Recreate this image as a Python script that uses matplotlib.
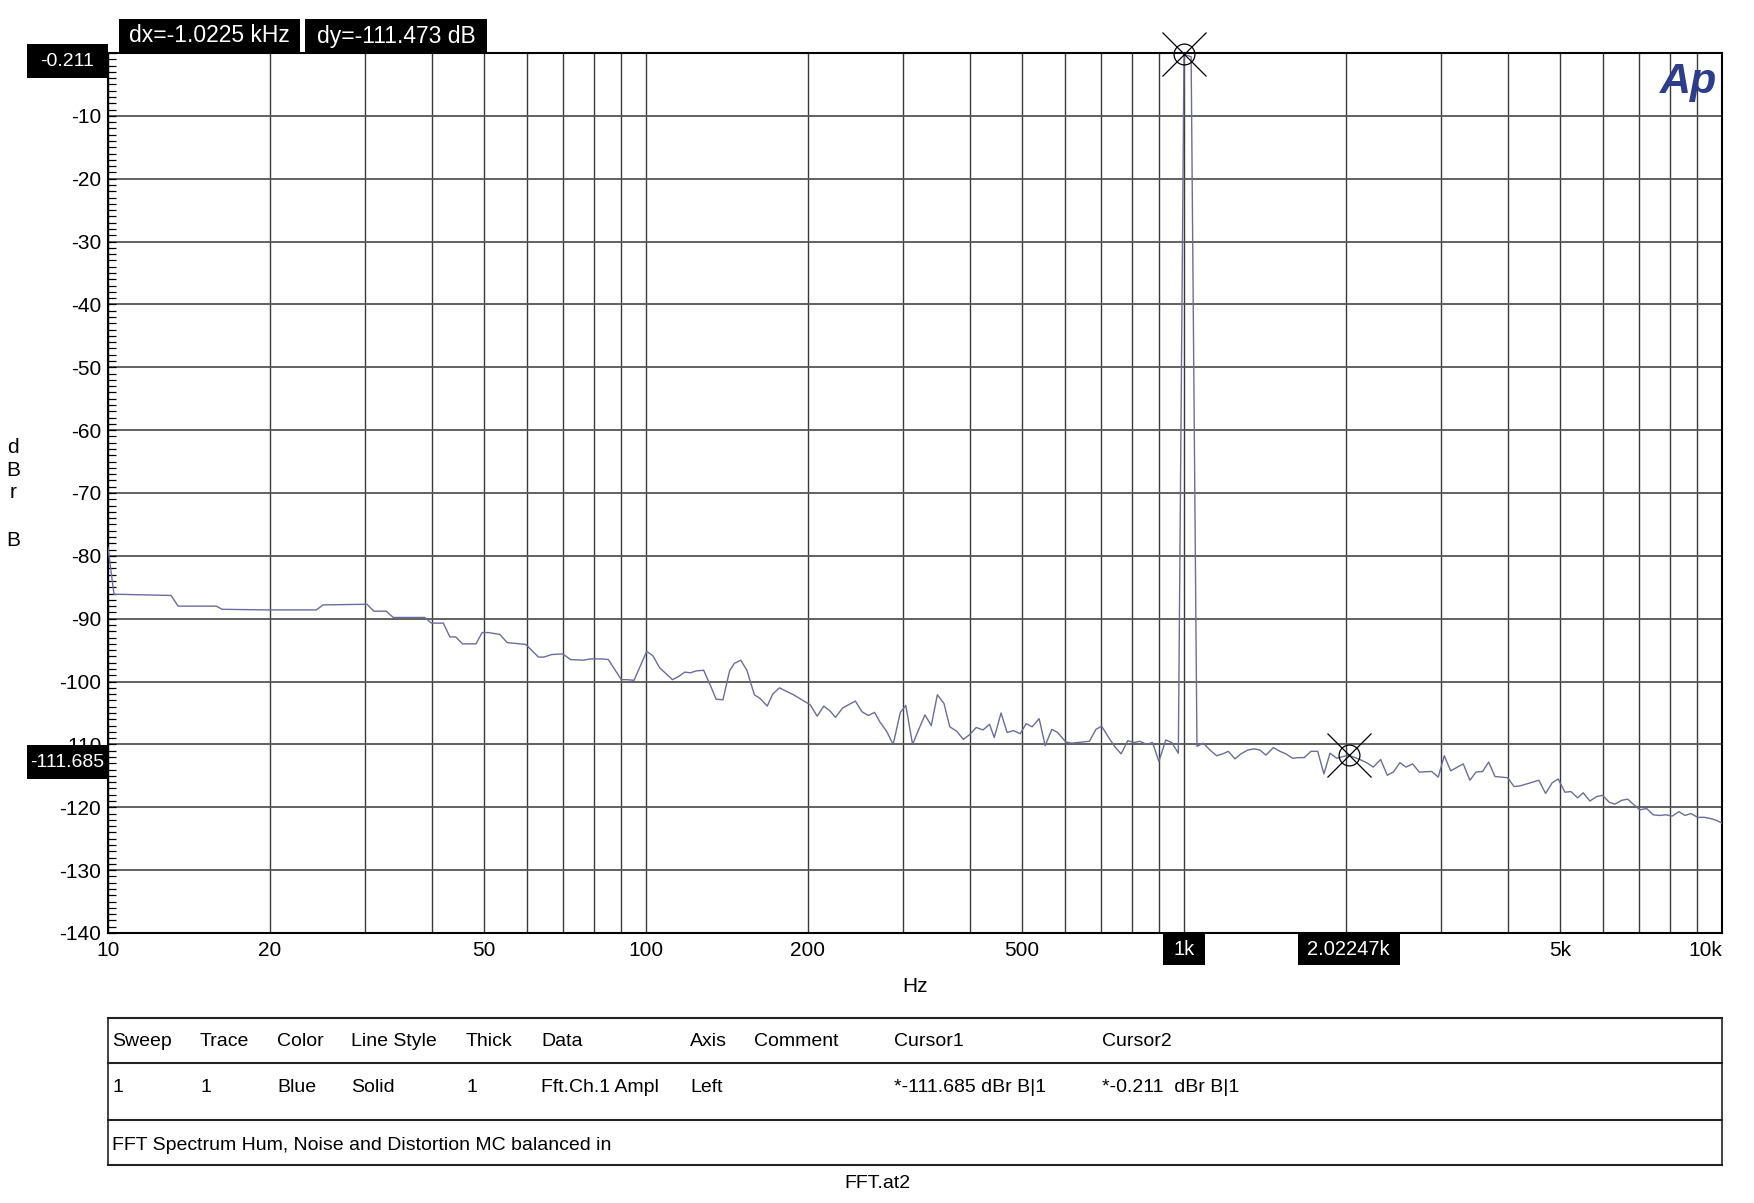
import matplotlib
matplotlib.use('Agg')
import matplotlib.pyplot as plt
from matplotlib.patches import Rectangle
from matplotlib.ticker import MultipleLocator, LogLocator, NullFormatter

plt.rcParams['font.family'] = ['Liberation Sans', 'DejaVu Sans']
plt.rcParams['axes.unicode_minus'] = False

# ---------------------------------------------------------------
# trace (Hz, dBr B)
freq_hz = [10.0, 10.26, 13.1, 13.5, 15.9, 16.3, 19.7, 24.4, 25.1, 30.3,
           31.2, 32.9, 33.9, 38.8, 39.9, 42.0, 43.2, 44.3, 45.6, 48.3,
           49.6, 50.9, 53.5, 55.2, 59.8, 63.1, 64.6, 66.8, 70.0, 72.4,
           76.5, 78.7, 83.3, 85.1, 90.0, 92.3, 95.0, 100.3, 103, 106,
           112, 115, 118, 121, 124, 128, 132, 135, 139, 143,
           146, 150, 154, 159, 163, 168, 172, 177, 188, 202,
           208, 214, 220, 225, 232, 239, 245, 252, 259, 266,
           272, 280, 288, 297, 304, 313, 321, 330, 339, 348,
           358, 367, 378, 389, 400, 411, 423, 435, 444, 457,
           469, 482, 496, 509, 522, 538, 552, 568, 582, 603,
           618, 667, 686, 703, 723, 744, 764, 786, 807, 828,
           852, 874, 898, 925, 949, 976, 1000, 1031, 1057, 1086,
           1118, 1150, 1180, 1209, 1244, 1276, 1313, 1351, 1384, 1420,
           1466, 1508, 1547, 1592, 1631, 1673, 1722, 1772, 1820, 1868,
           1922, 2022, 2123, 2185, 2248, 2320, 2387, 2449, 2520, 2586,
           2661, 2737, 2886, 2969, 3046, 3131, 3304, 3400, 3489, 3590,
           3684, 3784, 3895, 3996, 4106, 4213, 4567, 4700, 4835, 4961,
           5105, 5238, 5391, 5521, 5682, 5847, 5999, 6171, 6323, 6507,
           6677, 6859, 7038, 7242, 7450, 7644, 7866, 8081, 8318, 8534,
           8756, 9011, 9269, 9538, 9774, 10000]
level_db = [-78.7, -86.1, -86.3, -88.0, -88.0, -88.5, -88.6, -88.6, -87.8, -87.7,
            -88.8, -88.8, -89.8, -89.8, -90.7, -90.7, -92.9, -92.9, -94.0, -94.0,
            -92.2, -92.2, -92.5, -93.8, -94.1, -96.1, -96.1, -95.7, -95.6, -96.5,
            -96.6, -96.4, -96.4, -96.5, -99.7, -99.7, -99.8, -95.2, -95.9, -97.8,
            -99.7, -99.2, -98.5, -98.6, -98.3, -98.2, -100.8, -102.8, -102.9, -98.3,
            -97.1, -96.6, -98.2, -102.1, -102.7, -103.9, -102.0, -101.0, -102.1, -103.7,
            -105.5, -103.9, -104.7, -105.7, -104.2, -103.6, -103.1, -104.8, -105.4, -104.9,
            -106.4, -107.9, -110.0, -104.9, -103.8, -110.0, -107.7, -105.3, -107.0, -102.1,
            -103.5, -107.2, -107.9, -109.2, -108.4, -107.3, -107.7, -106.8, -108.9, -105.0,
            -108.1, -107.8, -108.3, -106.7, -107.2, -105.9, -110.2, -107.6, -108.1, -109.6,
            -109.8, -109.5, -107.6, -107.1, -108.8, -110.4, -111.5, -109.4, -109.7, -109.5,
            -110.0, -109.7, -112.7, -109.3, -109.7, -111.4, -0.211, -0.6, -110.3, -109.8,
            -110.9, -111.8, -111.5, -111.1, -112.3, -111.5, -110.9, -110.7, -110.9, -111.7,
            -110.5, -111.1, -111.5, -112.2, -112.1, -112.1, -111.1, -111.1, -114.7, -111.4,
            -112.2, -111.7, -112.4, -112.9, -113.6, -112.4, -114.9, -114.4, -112.9, -113.6,
            -113.1, -114.4, -114.3, -115.2, -111.8, -114.2, -113.1, -115.7, -114.4, -114.3,
            -112.8, -115.1, -115.2, -115.3, -116.7, -116.6, -115.7, -117.8, -116.1, -115.5,
            -117.6, -117.5, -118.5, -117.7, -119.0, -118.3, -118.1, -119.2, -119.5, -118.9,
            -118.7, -119.6, -120.4, -120.2, -121.2, -121.3, -121.2, -121.4, -120.7, -121.3,
            -121.0, -121.6, -121.6, -121.8, -122.1, -122.5]

cursor_hz = [1000.0, 2022.47]
cursor_db = [-0.211, -111.685]
cursor_txt = ['-0.211', '-111.685']
cursor_xtxt = ['1k', '2.02247k']

xtick_vals = [10, 20, 50, 100, 200, 500, 5000, 10000]
xtick_txt = ['10', '20', '50', '100', '200', '500', '5k', '10k']
ytick_vals = list(range(-140, 0, 10))

table_cols = ['Sweep', 'Trace', 'Color', 'Line Style', 'Thick', 'Data',
              'Axis', 'Comment', 'Cursor1', 'Cursor2']
table_row = ['1', '1', 'Blue', 'Solid', '1', 'Fft.Ch.1 Ampl',
             'Left', '', '*-111.685 dBr B|1', '*-0.211  dBr B|1']
col_x = [112, 200, 277, 351, 466, 541, 690, 754, 894, 1102]
# ---------------------------------------------------------------

W, H = 1754, 1203
fig = plt.figure(figsize=(W / 100, H / 100), dpi=100)
ax = fig.add_axes([108 / W, 1 - 933 / H, (1722 - 108) / W, (933 - 53) / H])

ax.plot(freq_hz, level_db, color='#6C6C9C', lw=1.0, zorder=4)

ax.set_xscale('log')
ax.set_xlim(10, 10000)
ax.set_ylim(-140, 0)

ax.set_xticks(xtick_vals, xtick_txt)
ax.xaxis.set_minor_locator(LogLocator(base=10, subs=range(1, 10), numticks=20))
ax.xaxis.set_minor_formatter(NullFormatter())
ax.tick_params(axis='x', which='both', length=0, pad=6, labelsize=15)
ax.get_xticklabels()[-1].set_ha('right')

ax.set_yticks(ytick_vals)
ax.yaxis.set_minor_locator(MultipleLocator(1))
ax.tick_params(axis='y', which='both', direction='in', length=6, width=0.9,
               pad=5, labelsize=15)

ax.grid(True, which='both', axis='x', color='#3a3a3a', lw=1.0)
ax.grid(True, which='major', axis='y', color='#555555', lw=1.3)
ax.set_axisbelow(True)
for sp in ax.spines.values():
    sp.set_linewidth(1.5)

ax.set_xlabel('Hz', fontsize=15, labelpad=12)

# cursors
ax.plot(cursor_hz, cursor_db, ls='none', marker='o', ms=15, mfc='none',
        mec='black', mew=0.9, clip_on=False, zorder=6)
ax.plot(cursor_hz, cursor_db, ls='none', marker='x', ms=31,
        mec='black', mew=0.9, clip_on=False, zorder=6)


def black_box(x0, y0, x1, y1, txt, size):
    # pixel coords, origin top-left
    fig.patches.append(Rectangle((x0 / W, 1 - y1 / H), (x1 - x0) / W, (y1 - y0) / H,
                                 transform=fig.transFigure, fc='black', ec='none',
                                 zorder=10))
    fig.text((x0 + x1) / 2 / W, 1 - (y0 + y1) / 2 / H, txt, color='white',
             ha='center', va='center', fontsize=size, zorder=11)


for f, v, t, xt in zip(cursor_hz, cursor_db, cursor_txt, cursor_xtxt):
    px, py = ax.transData.transform((f, v))
    cy = H - py + 7
    black_box(27, cy - 17, 108, cy + 17, t, 14)
    bw = 21 if len(xt) < 4 else 51
    black_box(px - bw, 934, px + bw, 965, xt, 14.5)

black_box(119, 19, 300, 53, 'dx=-1.0225 kHz', 16.5)
black_box(305, 19, 487, 53, 'dy=-111.473 dB', 16.5)

# vertical unit label
for ch, yy in zip('dBrB', [447, 471, 493, 540]):
    fig.text(13 / W, 1 - yy / H, ch, ha='center', va='center', fontsize=15)

# Ap logo
fig.text(1717 / W, 1 - 82 / H, 'Ap', ha='right', va='center', fontsize=31,
         fontweight='bold', fontstyle='italic', color='#2E3C8C')

# legend table
for yy in [1018, 1063, 1120, 1165]:
    fig.add_artist(plt.Line2D([108 / W, 1722 / W], [1 - yy / H, 1 - yy / H],
                              color='#222222', lw=1.5))
for xx in [108, 1722]:
    fig.add_artist(plt.Line2D([xx / W, xx / W], [1 - 1018 / H, 1 - 1165 / H],
                              color='#222222', lw=1.2))
for xx, c, r in zip(col_x, table_cols, table_row):
    fig.text(xx / W, 1 - 1042 / H, c, ha='left', va='center', fontsize=14)
    fig.text(xx / W, 1 - 1087 / H, r, ha='left', va='center', fontsize=14)
fig.text(112 / W, 1 - 1145 / H, 'FFT Spectrum Hum, Noise and Distortion MC balanced in',
         ha='left', va='center', fontsize=14)
fig.text(877 / W, 1 - 1184 / H, 'FFT.at2', ha='center', va='center', fontsize=14)

fig.savefig('out.png', dpi=100)
